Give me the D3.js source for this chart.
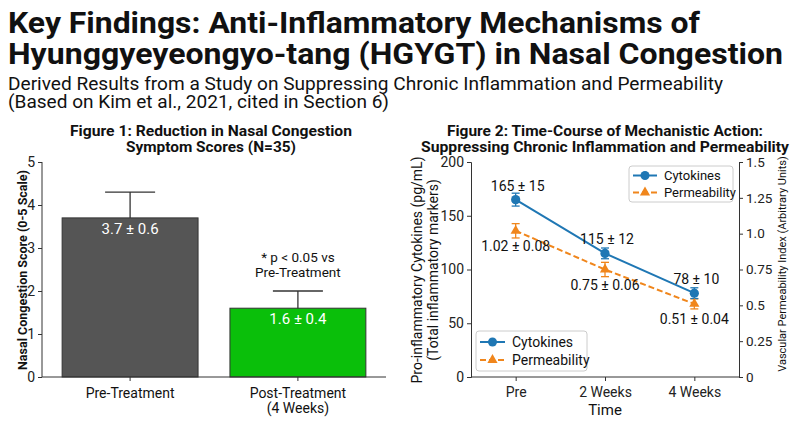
<!DOCTYPE html>
<html>
<head>
<meta charset="utf-8">
<script src="https://cdn.jsdelivr.net/npm/d3@7"></script>
<style>
  body { margin: 0; background: #fff; }
  text { font-family: Roboto, "Noto Sans", sans-serif; fill: #111; }
</style>
</head>
<body>
<div id="chart"></div>
<script>
(function () {

  // ---- data ----
  const barCategories = ["Pre-Treatment", "Post-Treatment (4 Weeks)"]
  const barTickLines = [["Pre-Treatment"], ["Post-Treatment", "(4 Weeks)"]]
  const barMeans = [3.7, 1.6]
  const barSD = [0.6, 0.4]
  const barColors = ["#555555", "#0abf0a"]
  const barTicks = [0, 1, 2, 3, 4, 5]

  const timePoints = ["Pre", "2 Weeks", "4 Weeks"]
  const cytokineMean = [165, 115, 78]
  const cytokineSD = [15, 12, 10]
  const cytokineErrDrawn = [6, 5, 5]
  const permMean = [1.02, 0.75, 0.51]
  const permSD = [0.08, 0.06, 0.04]
  const permErrDrawn = [0.05, 0.05, 0.035]
  const leftTicks = [0, 50, 100, 150, 200]
  const rightTicks = [0, 0.25, 0.5, 0.75, 1.0, 1.25, 1.5]
  const rightTickLabels = ["0", "0.25", "0.5", "0.75", "1.0", "1.25", "1.5"]
  const seriesNames = ["Cytokines", "Permeability"]
  const seriesColors = ["#1f77b4", "#f0861c"]

  const svg = d3.select("#chart").append("svg")
    .attr("width", 800)
    .attr("height", 436)

  svg.append("rect").attr("width", 800).attr("height", 436).attr("fill", "#fff")

  // squeeze text to the measured width (the original font is narrower)
  function fit(sel, w) {
    sel.attr("textLength", w).attr("lengthAdjust", "spacingAndGlyphs")
  }

  // ---- header ----
  fit(svg.append("text").attr("x", 8).attr("y", 33)
    .style("font-size", "30px").style("font-weight", "bold")
    .text("Key Findings: Anti-Inflammatory Mechanisms of"), 692)
  fit(svg.append("text").attr("x", 8).attr("y", 64)
    .style("font-size", "30px").style("font-weight", "bold")
    .text("Hyunggyeyeongyo-tang (HGYGT) in Nasal Congestion"), 775)
  fit(svg.append("text").attr("x", 8).attr("y", 90)
    .style("font-size", "17.5px")
    .text("Derived Results from a Study on Suppressing Chronic Inflammation and Permeability"), 715)
  fit(svg.append("text").attr("x", 8).attr("y", 108)
    .style("font-size", "17.5px")
    .text("(Based on Kim et al., 2021, cited in Section 6)"), 381)

  // ---- Figure 1: bars ----
  const x1 = d3.scaleBand()
    .domain(barCategories)
    .range([42, 386])
    .paddingInner(0.19)
    .paddingOuter(0.12)

  const y1 = d3.scaleLinear().domain([0, 5]).range([377, 162])

  fit(svg.append("text").attr("x", 211).attr("y", 136).attr("text-anchor", "middle")
    .style("font-size", "15px").style("font-weight", "bold")
    .text("Figure 1: Reduction in Nasal Congestion"), 282)
  fit(svg.append("text").attr("x", 211).attr("y", 152).attr("text-anchor", "middle")
    .style("font-size", "15px").style("font-weight", "bold")
    .text("Symptom Scores (N=35)"), 170)

  const g1 = svg.append("g")

  // error bars first, bars cover the lower half
  const eb1 = g1.selectAll(".eb").data(barCategories).join("g").attr("class", "eb")
  eb1.append("line")
    .attr("x1", d => x1(d) + x1.bandwidth() / 2)
    .attr("x2", d => x1(d) + x1.bandwidth() / 2)
    .attr("y1", (d, i) => y1(barMeans[i] - barSD[i]))
    .attr("y2", (d, i) => y1(barMeans[i] + barSD[i]))
    .attr("stroke", "#333").attr("stroke-width", 1.3)
  eb1.append("line")
    .attr("x1", d => x1(d) + x1.bandwidth() / 2 - 25)
    .attr("x2", d => x1(d) + x1.bandwidth() / 2 + 25)
    .attr("y1", (d, i) => y1(barMeans[i] + barSD[i]))
    .attr("y2", (d, i) => y1(barMeans[i] + barSD[i]))
    .attr("stroke", "#333").attr("stroke-width", 1.3)

  g1.selectAll(".bar").data(barCategories).join("rect").attr("class", "bar")
    .attr("x", d => x1(d))
    .attr("width", x1.bandwidth())
    .attr("y", (d, i) => y1(barMeans[i]))
    .attr("height", (d, i) => y1(0) - y1(barMeans[i]))
    .attr("fill", (d, i) => barColors[i])
    .attr("stroke", "#333").attr("stroke-width", 1)

  g1.selectAll(".barlabel").data(barCategories).join("text").attr("class", "barlabel")
    .attr("x", d => x1(d) + x1.bandwidth() / 2)
    .attr("y", (d, i) => y1(barMeans[i]) + 16)
    .attr("text-anchor", "middle")
    .style("font-size", "15px").style("fill", "#fff")
    .text((d, i) => barMeans[i] + " \u00b1 " + barSD[i])

  const postX = x1(barCategories[1]) + x1.bandwidth() / 2
  g1.append("text").attr("x", postX).attr("y", 262).attr("text-anchor", "middle")
    .style("font-size", "13.5px").text("* p < 0.05 vs")
  g1.append("text").attr("x", postX).attr("y", 277).attr("text-anchor", "middle")
    .style("font-size", "13.5px").text("Pre-Treatment")

  const yAxis1 = g1.append("g").attr("transform", "translate(42,0)")
    .call(d3.axisLeft(y1).tickValues(barTicks).tickFormat(d3.format("d"))
      .tickSize(4).tickPadding(3))
  yAxis1.select(".domain").attr("d", "M0,162V377")

  const xAxis1 = g1.append("g").attr("transform", "translate(0,377)")
    .call(d3.axisBottom(x1).tickSize(4).tickFormat(""))
  xAxis1.select(".domain").attr("d", "M42,0H386")

  g1.selectAll(".xt1").data(barCategories).join("text").attr("class", "xt1")
    .attr("text-anchor", "middle")
    .style("font-size", "14px")
    .attr("x", d => x1(d) + x1.bandwidth() / 2)
    .attr("y", 398)
    .selectAll("tspan").data((d, i) => barTickLines[i]).join("tspan")
    .attr("x", function () { return d3.select(this.parentNode).attr("x") })
    .attr("dy", (d, i) => i === 0 ? 0 : 15)
    .text(d => d)

  g1.append("text")
    .attr("transform", "translate(27,270) rotate(-90)")
    .attr("text-anchor", "middle")
    .style("font-size", "12.5px").style("font-weight", "bold")
    .text("Nasal Congestion Score (0-5 Scale)")

  // ---- Figure 2: lines ----
  const x2 = d3.scalePoint().domain(timePoints).range([471, 739]).padding(0.5)
  const yL = d3.scaleLinear().domain([0, 200]).range([377, 162])
  const yR = d3.scaleLinear().domain([0, 1.5]).range([377, 162])

  fit(svg.append("text").attr("x", 605).attr("y", 136).attr("text-anchor", "middle")
    .style("font-size", "15px").style("font-weight", "bold")
    .text("Figure 2: Time-Course of Mechanistic Action:"), 316)
  fit(svg.append("text").attr("x", 605).attr("y", 152).attr("text-anchor", "middle")
    .style("font-size", "15px").style("font-weight", "bold")
    .text("Suppressing Chronic Inflammation and Permeability"), 368)

  const g2 = svg.append("g")

  const axL = g2.append("g").attr("transform", "translate(471,0)")
    .call(d3.axisLeft(yL).tickValues(leftTicks).tickSize(4).tickPadding(3))
  const axR = g2.append("g").attr("transform", "translate(739,0)")
    .call(d3.axisRight(yR).tickValues(rightTicks).tickSize(4).tickPadding(3)
      .tickFormat((d, i) => rightTickLabels[i]))
  const axB = g2.append("g").attr("transform", "translate(0,377)")
    .call(d3.axisBottom(x2).tickSize(4).tickPadding(6))
  axB.select(".domain").attr("d", "M471,0H739")

  g2.append("text").attr("x", 605).attr("y", 415).attr("text-anchor", "middle")
    .style("font-size", "15px").text("Time")

  g2.append("text")
    .attr("transform", "translate(422,270) rotate(-90)")
    .attr("text-anchor", "middle").style("font-size", "14px")
    .text("Pro-inflammatory Cytokines (pg/mL)")
  g2.append("text")
    .attr("transform", "translate(438,270) rotate(-90)")
    .attr("text-anchor", "middle").style("font-size", "14px")
    .text("(Total inflammatory markers)")
  g2.append("text")
    .attr("transform", "translate(786,264) rotate(-90)")
    .attr("text-anchor", "middle").style("font-size", "11px")
    .text("Vascular Permeability Index (Arbitrary Units)")

  // permeability (right axis)
  const permLine = d3.line().x((d, i) => x2(timePoints[i])).y(d => yR(d))
  g2.append("path").datum(permMean)
    .attr("d", permLine).attr("fill", "none")
    .attr("stroke", seriesColors[1]).attr("stroke-width", 2)
    .attr("stroke-dasharray", "6,3")

  const cytoLine = d3.line().x((d, i) => x2(timePoints[i])).y(d => yL(d))
  g2.append("path").datum(cytokineMean)
    .attr("d", cytoLine).attr("fill", "none")
    .attr("stroke", seriesColors[0]).attr("stroke-width", 2)

  function errorBars(cls, means, errs, scale, color) {
    const g = g2.selectAll("." + cls).data(timePoints).join("g").attr("class", cls)
    g.append("line")
      .attr("x1", d => x2(d)).attr("x2", d => x2(d))
      .attr("y1", (d, i) => scale(means[i] - errs[i]))
      .attr("y2", (d, i) => scale(means[i] + errs[i]))
      .attr("stroke", color).attr("stroke-width", 1.3)
    ;[-1, 1].forEach(s => {
      g.append("line")
        .attr("x1", d => x2(d) - 4).attr("x2", d => x2(d) + 4)
        .attr("y1", (d, i) => scale(means[i] + s * errs[i]))
        .attr("y2", (d, i) => scale(means[i] + s * errs[i]))
        .attr("stroke", color).attr("stroke-width", 1.3)
    })
  }
  errorBars("ebP", permMean, permErrDrawn, yR, seriesColors[1])
  errorBars("ebC", cytokineMean, cytokineErrDrawn, yL, seriesColors[0])

  const tri = d3.symbol(d3.symbolTriangle).size(45)
  g2.selectAll(".mP").data(permMean).join("path").attr("class", "mP")
    .attr("d", tri)
    .attr("transform", (d, i) => "translate(" + x2(timePoints[i]) + "," + yR(d) + ")")
    .attr("fill", seriesColors[1])

  g2.selectAll(".mC").data(cytokineMean).join("circle").attr("class", "mC")
    .attr("cx", (d, i) => x2(timePoints[i]))
    .attr("cy", d => yL(d))
    .attr("r", 4.6)
    .attr("fill", seriesColors[0])

  g2.selectAll(".lC").data(cytokineMean).join("text").attr("class", "lC")
    .attr("x", (d, i) => x2(timePoints[i]) + 2)
    .attr("y", d => yL(d) - 9)
    .attr("text-anchor", "middle").style("font-size", "14px")
    .text((d, i) => d + " \u00b1 " + cytokineSD[i])

  g2.selectAll(".lP").data(permMean).join("text").attr("class", "lP")
    .attr("x", (d, i) => x2(timePoints[i]))
    .attr("y", d => yR(d) + 20)
    .attr("text-anchor", "middle").style("font-size", "14px")
    .text((d, i) => d3.format(".2f")(d) + " \u00b1 " + d3.format(".2f")(permSD[i]))

  // two legends, one upper right and one lower left
  function legend(x, y, w, h, rowH, sampleW, fontSize) {
    const lg = g2.append("g").attr("transform", "translate(" + x + "," + y + ")")
    lg.append("rect").attr("width", w).attr("height", h).attr("rx", 3)
      .attr("fill", "#fff").attr("fill-opacity", 0.85)
      .attr("stroke", "#cccccc")
    const rows = lg.selectAll(".row").data(seriesNames).join("g")
      .attr("transform", (d, i) => "translate(4," + (h / 2 + (i - 0.5) * rowH) + ")")
    rows.append("line").attr("x1", 0).attr("x2", sampleW)
      .attr("stroke", (d, i) => seriesColors[i]).attr("stroke-width", 2)
      .attr("stroke-dasharray", (d, i) => i === 1 ? "6,3" : null)
    rows.each(function (d, i) {
      const r = d3.select(this)
      if (i === 0) {
        r.append("circle").attr("cx", sampleW / 2).attr("r", 4.5).attr("fill", seriesColors[0])
      } else {
        r.append("path").attr("d", tri).attr("transform", "translate(" + sampleW / 2 + ",0)")
          .attr("fill", seriesColors[1])
      }
    })
    rows.append("text").attr("x", sampleW + 7).attr("dy", "0.35em")
      .style("font-size", fontSize + "px").text(d => d)
  }
  legend(629, 166, 104, 36, 17, 24, 13)
  legend(476, 331, 111, 40, 18, 25, 14)

  // axis styling
  svg.selectAll(".tick text").style("font-size", "14px").style("fill", "#222")
  axR.selectAll(".tick text").style("font-size", "13.5px")
  svg.selectAll(".domain, .tick line").attr("stroke", "#333")

})();
</script>
</body>
</html>
